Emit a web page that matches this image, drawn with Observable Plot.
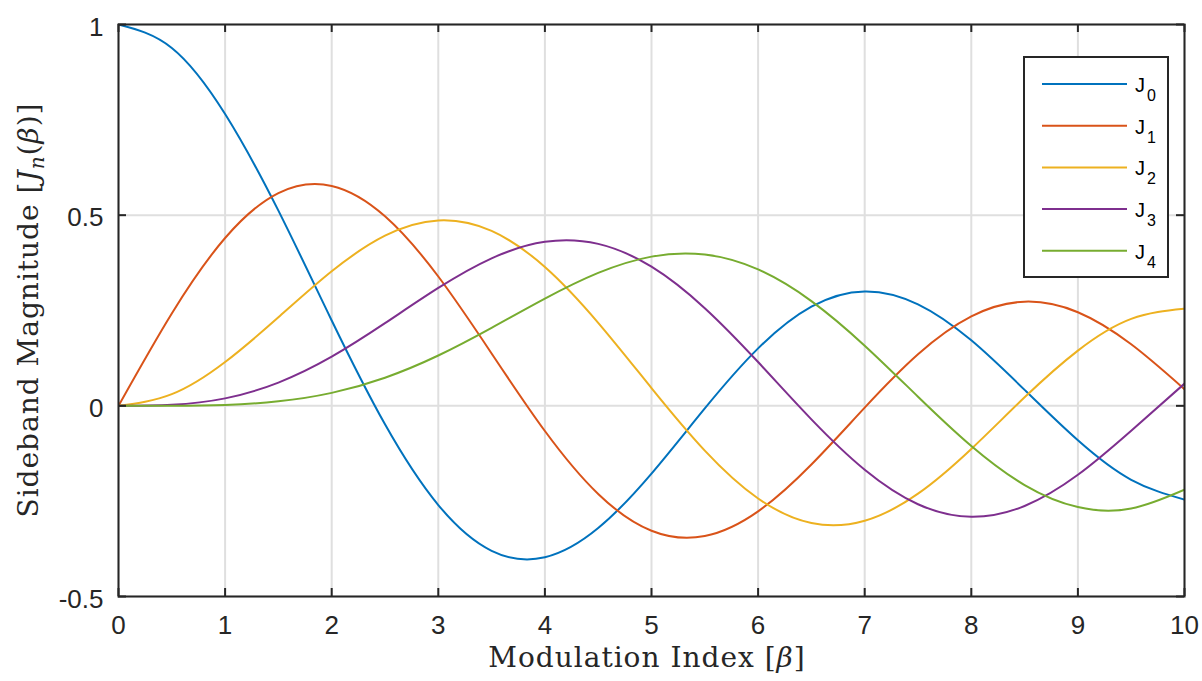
<!DOCTYPE html>
<html>
<head>
<meta charset="utf-8">
<script src="https://cdn.jsdelivr.net/npm/d3@7"></script>
<script src="https://cdn.jsdelivr.net/npm/@observablehq/plot@0.6"></script>
<style>
  body { margin: 0; background: #fff; }
  #chart svg { display: block; }
</style>
</head>
<body>
<div id="chart"></div>
<script>
// Modulation index samples
const beta = [0, 0.5, 1, 1.5, 2, 2.5, 3, 3.5, 4, 4.5, 5, 5.5, 6, 6.5, 7, 7.5, 8, 8.5, 9, 9.5, 10];

// Sideband magnitudes
const J0 = [1, 0.9385, 0.7652, 0.5118, 0.2239, -0.0484, -0.2601, -0.3801, -0.3971, -0.3205, -0.1776, -0.0068, 0.1506, 0.2601, 0.3001, 0.2663, 0.1717, 0.0419, -0.0903, -0.1939, -0.2459];
const J1 = [0, 0.2423, 0.4401, 0.5579, 0.5767, 0.4971, 0.3391, 0.1374, -0.0660, -0.2311, -0.3276, -0.3414, -0.2767, -0.1538, -0.0047, 0.1352, 0.2346, 0.2731, 0.2453, 0.1613, 0.0435];
const J2 = [0, 0.0306, 0.1149, 0.2321, 0.3528, 0.4461, 0.4861, 0.4586, 0.3641, 0.2178, 0.0466, -0.1173, -0.2429, -0.3074, -0.3014, -0.2303, -0.1130, 0.0223, 0.1448, 0.2279, 0.2546];
const J3 = [0, 0.0026, 0.0196, 0.0610, 0.1289, 0.2167, 0.3091, 0.3868, 0.4301, 0.4247, 0.3649, 0.2561, 0.1148, -0.0354, -0.1675, -0.2580, -0.2911, -0.2626, -0.1809, -0.0653, 0.0583];
const J4 = [0, 0.0002, 0.0025, 0.0118, 0.0340, 0.0738, 0.1320, 0.2045, 0.2811, 0.3485, 0.3913, 0.3967, 0.3577, 0.2747, 0.1578, 0.0239, -0.1053, -0.2077, -0.2654, -0.2691, -0.2196];

const seriesNames = ["J0", "J1", "J2", "J3", "J4"];
const seriesSubs = ["0", "1", "2", "3", "4"];
const seriesColors = ["#0072BD", "#D95319", "#EDB120", "#7E2F8E", "#77AC30"];

const xTicks = [0, 1, 2, 3, 4, 5, 6, 7, 8, 9, 10];
const yTicks = [-0.5, 0, 0.5, 1];
const yTickLabels = ["-0.5", "0", "0.5", "1"];

const series = [J0, J1, J2, J3, J4];
const rows = [];
series.forEach((vals, i) => vals.forEach((v, j) => rows.push({beta: beta[j], value: v, series: seriesNames[i]})));

const W = 1202, H = 681;
const mL = 118, mR = 18, mT = 24, mB = 85;
const plotW = W - mL - mR, plotH = H - mT - mB;
const ink = "#262626";
const gridColor = "#dfdfdf";
const tickLen = 8;

const chart = Plot.plot({
  width: W,
  height: H,
  marginLeft: mL,
  marginRight: mR,
  marginTop: mT,
  marginBottom: mB,
  x: {domain: [0, 10]},
  y: {domain: [-0.5, 1]},
  color: {domain: seriesNames, range: seriesColors},
  style: {fontFamily: "'Liberation Sans', Arial, sans-serif", fontSize: "26px", color: ink, background: "#fff", overflow: "visible"},
  marks: [
    Plot.gridX(xTicks, {stroke: gridColor, strokeOpacity: 1, strokeWidth: 2}),
    Plot.gridY(yTicks, {stroke: gridColor, strokeOpacity: 1, strokeWidth: 2}),
    Plot.line(rows, {x: "beta", y: "value", z: "series", stroke: "series", strokeWidth: 2, curve: "natural", clip: true}),
    // inward ticks on all four sides
    Plot.tickX(xTicks, {x: d => d, insetTop: plotH - tickLen, stroke: ink, strokeWidth: 2}),
    Plot.tickX(xTicks, {x: d => d, insetBottom: plotH - tickLen, stroke: ink, strokeWidth: 2}),
    Plot.tickY(yTicks, {y: d => d, insetRight: plotW - tickLen, stroke: ink, strokeWidth: 2}),
    Plot.tickY(yTicks, {y: d => d, insetLeft: plotW - tickLen, stroke: ink, strokeWidth: 2}),
    Plot.axisX(xTicks, {anchor: "bottom", tickSize: 0, tickPadding: 19, label: null, fill: ink, fontSize: 26}),
    Plot.axisY(yTicks, {anchor: "left", tickSize: 0, tickPadding: 15, dy: 3, label: null, fill: ink, fontSize: 26,
      tickFormat: d => yTickLabels[yTicks.indexOf(d)]}),
    Plot.frame({stroke: ink, strokeWidth: 2})
  ]
});

document.getElementById("chart").appendChild(chart);

const svg = d3.select(chart);
const serif = "'DejaVu Serif', 'Liberation Serif', serif";

// x-axis label
const xl = svg.append("text")
  .attr("x", 647).attr("y", 667)
  .attr("text-anchor", "middle")
  .attr("font-family", serif).attr("font-size", 28).attr("letter-spacing", 1).attr("fill", ink);
xl.append("tspan").text("Modulation Index [");
xl.append("tspan").attr("font-style", "italic").text("β");
xl.append("tspan").text("]");

// y-axis label
const yl = svg.append("text")
  .attr("transform", "translate(38,310) rotate(-90)")
  .attr("text-anchor", "middle")
  .attr("font-family", serif).attr("font-size", 28).attr("letter-spacing", 1).attr("fill", ink);
yl.append("tspan").text("Sideband Magnitude [");
yl.append("tspan").attr("font-style", "italic").text("J");
yl.append("tspan").attr("font-style", "italic").attr("font-size", 20).attr("dy", 6).text("n");
yl.append("tspan").attr("dy", -6).text("(");
yl.append("tspan").attr("font-style", "italic").text("β");
yl.append("tspan").text(")]");

// legend
const lg = svg.append("g").attr("text-anchor", "start");
lg.append("rect").attr("x", 1024).attr("y", 57).attr("width", 144).attr("height", 220)
  .attr("fill", "#fff").attr("stroke", ink).attr("stroke-width", 2);
seriesNames.forEach((name, i) => {
  const yy = 84 + i * 41.7;
  lg.append("line").attr("x1", 1042).attr("x2", 1127).attr("y1", yy).attr("y2", yy)
    .attr("stroke", seriesColors[i]).attr("stroke-width", 2);
  const t = lg.append("text").attr("x", 1135).attr("y", yy + 8).attr("text-anchor", "start")
    .attr("font-family", "'Liberation Sans', Arial, sans-serif").attr("font-size", 20).attr("fill", "#000");
  t.append("tspan").text("J");
  t.append("tspan").attr("font-size", 16).attr("dy", 9).attr("dx", 2).text(seriesSubs[i]);
});
</script>
</body>
</html>
